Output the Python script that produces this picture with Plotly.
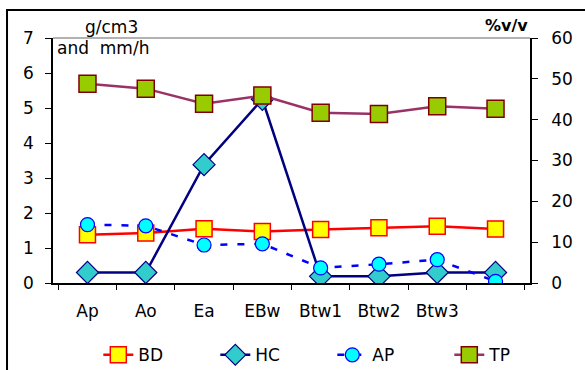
import plotly.graph_objects as go

horizons = ["Ap", "Ao", "Ea", "EBw", "Btw1", "Btw2", "Btw3", " "]
bd = [1.38, 1.43, 1.55, 1.47, 1.53, 1.58, 1.62, 1.54]          # g/cm3 (left)
hc = [0.30, 0.30, 3.38, 5.25, 0.19, 0.19, 0.30, 0.30]          # mm/h (left)
ap = [14.3, 14.0, 9.3, 9.6, 3.7, 4.6, 5.7, 0.4]                # %v/v (right)
tp = [48.8, 47.6, 43.9, 45.9, 41.7, 41.4, 43.3, 42.7]          # %v/v (right)

FONT = "DejaVu Sans, Liberation Sans, Arial, sans-serif"

fig = go.Figure()
fig.add_trace(go.Scatter(
    x=horizons, y=bd, name="BD", mode="lines+markers",
    line=dict(color="#FF0000", width=2.5),
    marker=dict(symbol="square", size=16, color="#FFFF00",
                line=dict(color="#FF0000", width=1.5))))
fig.add_trace(go.Scatter(
    x=horizons, y=hc, name="HC", mode="lines+markers",
    line=dict(color="#000080", width=2.5),
    marker=dict(symbol="diamond", size=17, color="#33CCCC",
                line=dict(color="#000080", width=1.2))))
fig.add_trace(go.Scatter(
    x=horizons, y=ap, name="AP", mode="lines+markers", yaxis="y2",
    line=dict(color="#0000FF", width=2.5, dash="7px,10px"),
    marker=dict(symbol="circle", size=14, color="#00FFFF",
                line=dict(color="#0000FF", width=1.2))))
fig.add_trace(go.Scatter(
    x=horizons, y=tp, name="TP", mode="lines+markers", yaxis="y2",
    line=dict(color="#993366", width=2.5),
    marker=dict(symbol="square", size=17, color="#99CC00",
                line=dict(color="#800000", width=1.5))))

fig.update_layout(
    width=585, height=370,
    margin=dict(l=53, r=55, t=38, b=87, autoexpand=False),
    paper_bgcolor="white", plot_bgcolor="white",
    font=dict(family=FONT, size=17, color="black"),
    showlegend=True,
    legend=dict(orientation="h", x=0.095, xanchor="left", y=-0.295,
                yanchor="middle", entrywidth=72, entrywidthmode="pixels",
                font=dict(size=17), bgcolor="rgba(0,0,0,0)"),
    xaxis=dict(type="category", tickson="boundaries", ticks="outside",
               ticklen=5, tickcolor="black", showline=True, linecolor="black",
               linewidth=1.5, showgrid=False, zeroline=False,
               ticklabelstandoff=12, tickfont=dict(size=17)),
    yaxis=dict(range=[0, 7], dtick=1, ticks="outside", ticklen=6,
               tickcolor="black", showline=True, linecolor="black",
               linewidth=1.5, showgrid=False, zeroline=False,
               ticklabelstandoff=8, tickfont=dict(size=17)),
    yaxis2=dict(range=[0, 60], dtick=10, overlaying="y", side="right",
                ticks="outside", ticklen=6, tickcolor="black", showline=True,
                linecolor="black", linewidth=1.5, showgrid=False,
                zeroline=False, ticklabelstandoff=10, tickfont=dict(size=17)),
    shapes=[
        dict(type="line", xref="paper", yref="paper", x0=0, x1=1, y0=1, y1=1,
             line=dict(color="#999999", width=1.5)),
        dict(type="rect", xref="paper", yref="paper", x0=-0.0964, x1=1.3,
             y0=-0.6, y1=1.114, line=dict(color="black", width=2)),
    ],
    annotations=[
        dict(text="g/cm3", xref="paper", yref="paper", x=0.122, y=1.045,
             xanchor="center", yanchor="middle", showarrow=False,
             font=dict(size=17)),
        dict(text="and  mm/h", xref="paper", yref="paper", x=0.005, y=0.96,
             xanchor="left", yanchor="middle", showarrow=False,
             font=dict(size=17)),
        dict(text="<b>%v/v</b>", xref="paper", yref="paper", x=0.95, y=1.05,
             xanchor="center", yanchor="middle", showarrow=False,
             font=dict(size=16)),
    ],
)

fig.write_html("out.html")
